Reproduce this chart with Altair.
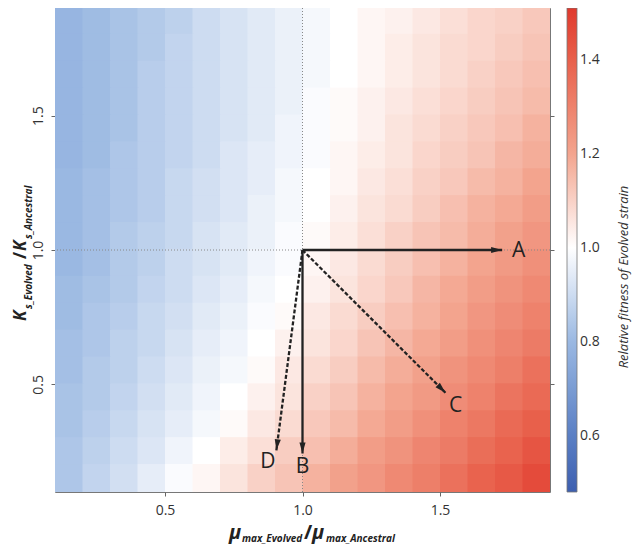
import math
import altair as alt
import pandas as pd

# ---------------- data ----------------
mu_ratio = [0.15, 0.25, 0.35, 0.45, 0.55, 0.65, 0.75, 0.85, 0.95,
            1.05, 1.15, 1.25, 1.35, 1.45, 1.55, 1.65, 1.75, 1.85]
ks_ratio = [1.85, 1.75, 1.65, 1.55, 1.45, 1.35, 1.25, 1.15, 1.05,
            0.95, 0.85, 0.75, 0.65, 0.55, 0.45, 0.35, 0.25, 0.15]

fit_ks_185 = [0.79, 0.81, 0.83, 0.85, 0.87, 0.90, 0.92, 0.94, 0.96, 0.98, 1.00, 1.02, 1.03, 1.05, 1.07, 1.09, 1.10, 1.12]
fit_ks_175 = [0.79, 0.81, 0.83, 0.85, 0.88, 0.90, 0.92, 0.94, 0.96, 0.98, 1.00, 1.02, 1.04, 1.06, 1.08, 1.09, 1.11, 1.13]
fit_ks_165 = [0.79, 0.81, 0.83, 0.86, 0.88, 0.90, 0.92, 0.94, 0.96, 0.98, 1.00, 1.02, 1.04, 1.06, 1.08, 1.10, 1.12, 1.14]
fit_ks_155 = [0.79, 0.81, 0.83, 0.86, 0.88, 0.90, 0.92, 0.94, 0.96, 0.99, 1.01, 1.03, 1.05, 1.07, 1.09, 1.11, 1.13, 1.15]
fit_ks_145 = [0.79, 0.81, 0.83, 0.86, 0.88, 0.90, 0.92, 0.94, 0.97, 0.99, 1.01, 1.03, 1.06, 1.08, 1.10, 1.12, 1.14, 1.17]
fit_ks_135 = [0.79, 0.81, 0.84, 0.86, 0.88, 0.90, 0.93, 0.95, 0.97, 0.99, 1.02, 1.04, 1.06, 1.09, 1.11, 1.13, 1.16, 1.18]
fit_ks_125 = [0.80, 0.82, 0.84, 0.86, 0.89, 0.91, 0.93, 0.95, 0.98, 1.00, 1.02, 1.05, 1.07, 1.10, 1.12, 1.15, 1.17, 1.20]
fit_ks_115 = [0.80, 0.82, 0.84, 0.86, 0.89, 0.91, 0.93, 0.96, 0.98, 1.00, 1.03, 1.06, 1.08, 1.11, 1.14, 1.17, 1.19, 1.22]
fit_ks_105 = [0.80, 0.82, 0.85, 0.87, 0.89, 0.92, 0.94, 0.96, 0.99, 1.01, 1.04, 1.07, 1.10, 1.13, 1.15, 1.18, 1.21, 1.24]
fit_ks_095 = [0.80, 0.82, 0.85, 0.87, 0.90, 0.92, 0.94, 0.97, 0.99, 1.02, 1.05, 1.08, 1.11, 1.14, 1.17, 1.20, 1.23, 1.26]
fit_ks_085 = [0.81, 0.83, 0.85, 0.88, 0.90, 0.93, 0.95, 0.98, 1.00, 1.03, 1.06, 1.09, 1.12, 1.16, 1.19, 1.22, 1.25, 1.28]
fit_ks_075 = [0.81, 0.84, 0.86, 0.89, 0.91, 0.94, 0.96, 0.99, 1.01, 1.05, 1.08, 1.11, 1.14, 1.17, 1.20, 1.24, 1.27, 1.30]
fit_ks_065 = [0.82, 0.84, 0.87, 0.89, 0.92, 0.95, 0.97, 1.00, 1.03, 1.06, 1.09, 1.13, 1.16, 1.19, 1.22, 1.26, 1.29, 1.32]
fit_ks_055 = [0.82, 0.85, 0.87, 0.90, 0.93, 0.96, 0.98, 1.01, 1.05, 1.08, 1.11, 1.15, 1.18, 1.21, 1.25, 1.28, 1.31, 1.35]
fit_ks_045 = [0.83, 0.85, 0.88, 0.91, 0.94, 0.97, 1.00, 1.03, 1.06, 1.10, 1.13, 1.17, 1.20, 1.23, 1.27, 1.30, 1.34, 1.37]
fit_ks_035 = [0.83, 0.86, 0.89, 0.92, 0.95, 0.98, 1.01, 1.05, 1.08, 1.12, 1.15, 1.19, 1.22, 1.26, 1.30, 1.33, 1.37, 1.40]
fit_ks_025 = [0.84, 0.87, 0.90, 0.93, 0.97, 1.00, 1.04, 1.07, 1.11, 1.14, 1.18, 1.22, 1.25, 1.29, 1.32, 1.36, 1.39, 1.43]
fit_ks_015 = [0.84, 0.88, 0.91, 0.95, 0.99, 1.02, 1.06, 1.10, 1.13, 1.17, 1.21, 1.24, 1.28, 1.31, 1.35, 1.39, 1.42, 1.46]

fitness_rows = [fit_ks_185, fit_ks_175, fit_ks_165, fit_ks_155, fit_ks_145, fit_ks_135,
                fit_ks_125, fit_ks_115, fit_ks_105, fit_ks_095, fit_ks_085, fit_ks_075,
                fit_ks_065, fit_ks_055, fit_ks_045, fit_ks_035, fit_ks_025, fit_ks_015]

arrow_names = ["A", "B", "C", "D"]
arrow_start_x = [1.0, 1.0, 1.0, 1.0]
arrow_start_y = [1.0, 1.0, 1.0, 1.0]
arrow_end_x = [1.726, 1.0, 1.52, 0.905]
arrow_end_y = [1.0, 0.243, 0.469, 0.255]
arrow_style = ["solid", "solid", "dashed", "dashed"]
label_x = [1.786, 1.0, 1.557, 0.874]
label_y = [0.995, 0.193, 0.42, 0.212]

axis_ticks = [0.5, 1.0, 1.5]
legend_ticks = [0.6, 0.8, 1.0, 1.2, 1.4]
color_stops = [0.48, 0.6, 0.8, 1.0, 1.2, 1.4, 1.51]
color_values = ["#3d5fb0", "#5a7fc4", "#9ab8e2", "#ffffff", "#f3a48e", "#e8604b", "#e0392d"]

# ---------------- layout ----------------
W, H = 495, 484
FONT = "Open Sans"
INK = "#222222"
GREY = "#333333"

cells = []
for yc, row in zip(ks_ratio, fitness_rows):
    for xc, v in zip(mu_ratio, row):
        cells.append({"x": xc, "y": yc, "v": v})
cells = pd.DataFrame(cells)
half = (mu_ratio[1] - mu_ratio[0]) / 2
overlap = 0.004  # hides anti-aliasing seams between neighbouring cells
cells["x0"] = cells["x"] - half
cells["x1"] = cells["x"] + half + overlap
cells["y0"] = cells["y"] - half
cells["y1"] = cells["y"] + half + overlap

xscale = alt.Scale(domain=[0.1, 1.9], nice=False, zero=False)
yscale = alt.Scale(domain=[0.1, 1.9], nice=False, zero=False)
cscale = alt.Scale(domain=color_stops, range=color_values, interpolate="rgb")

axis_common = dict(values=axis_ticks, format=".1f", title=None, grid=False, domain=False,
                   tickColor="#666666", tickSize=4, tickWidth=1,
                   labelFont=FONT, labelFontSize=14, labelColor=GREY)

heat = alt.Chart(cells).mark_rect(clip=True).encode(
    x=alt.X("x0:Q", scale=xscale, axis=alt.Axis(orient="bottom", labelPadding=7, **axis_common)),
    x2="x1:Q",
    y=alt.Y("y0:Q", scale=yscale, axis=alt.Axis(orient="left", labelAngle=270, labelAlign="center",
                                                labelBaseline="bottom", labelPadding=6, **axis_common)),
    y2="y1:Q",
    color=alt.Color("v:Q", scale=cscale, legend=alt.Legend(
        type="gradient", title=None, orient="none", legendX=512, legendY=0, direction="vertical",
        gradientLength=H, gradientThickness=10, gradientStrokeColor="#777777",
        gradientStrokeWidth=0.8, values=legend_ticks, format=".1f",
        labelFont=FONT, labelFontSize=14, labelColor=GREY, labelOffset=3, padding=0)),
)

ref_v = alt.Chart(pd.DataFrame({"v": [arrow_start_x[0]]})).mark_rule(
    color="#888888", strokeDash=[1, 2], strokeWidth=1).encode(
    x=alt.X("v:Q", scale=xscale, axis=alt.Axis(orient="top", labels=False, ticks=True,
                                              values=axis_ticks, title=None, grid=False, domain=False,
                                              tickColor="#666666", tickSize=4)))
ref_h = alt.Chart(pd.DataFrame({"v": [arrow_start_y[0]]})).mark_rule(
    color="#888888", strokeDash=[1, 2], strokeWidth=1).encode(
    y=alt.Y("v:Q", scale=yscale, axis=alt.Axis(orient="right", labels=False, ticks=True,
                                              values=axis_ticks, title=None, grid=False, domain=False,
                                              tickColor="#666666", tickSize=4)))

px_x = W / 1.8
px_y = H / 1.8
angles = []
for sx, sy, ex, ey in zip(arrow_start_x, arrow_start_y, arrow_end_x, arrow_end_y):
    dx = (ex - sx) * px_x
    dy = -(ey - sy) * px_y
    angles.append(math.degrees(math.atan2(dx, -dy)) % 360)

arrows = pd.DataFrame({"name": arrow_names, "sx": arrow_start_x, "sy": arrow_start_y,
                       "ex": arrow_end_x, "ey": arrow_end_y, "style": arrow_style,
                       "ang": angles, "lx": label_x, "ly": label_y})

shafts = alt.Chart(arrows).mark_rule(color=INK, strokeWidth=2.3, strokeCap="butt").encode(
    x=alt.X("sx:Q", scale=xscale, axis=None), y=alt.Y("sy:Q", scale=yscale, axis=None),
    x2="ex:Q", y2="ey:Q",
    strokeDash=alt.StrokeDash("style:N", scale=alt.Scale(domain=["solid", "dashed"],
                                                         range=[[1, 0], [4, 2]]), legend=None),
)
heads = alt.Chart(arrows).mark_point(shape="M0,0L0.5,1.8L-0.5,1.8Z", filled=True, size=150,
                                     color=INK, opacity=1, strokeWidth=0).encode(
    x=alt.X("ex:Q", scale=xscale, axis=None), y=alt.Y("ey:Q", scale=yscale, axis=None),
    angle=alt.Angle("ang:Q", scale=None),
)
labels = alt.Chart(arrows).mark_text(font=FONT, fontSize=21, color=INK).encode(
    x=alt.X("lx:Q", scale=xscale, axis=None), y=alt.Y("ly:Q", scale=yscale, axis=None),
    text="name:N",
)

dummy = pd.DataFrame({"d": [0]})


def piece(txt, px, py, size, angle=0, italic=True, bold=True):
    kw = dict(text=txt, font=FONT, fontSize=size, color=INK, align="left",
              baseline="alphabetic", fontStyle="italic" if italic else "normal",
              fontWeight="bold" if bold else "normal")
    if angle:
        kw["angle"] = angle
    return alt.Chart(dummy).mark_text(**kw).encode(x=alt.value(px), y=alt.value(py))


# x axis title: mu_max_Evolved / mu_max_Ancestral
xt = [
    piece("μ", 174, 531, 20),
    piece("max_Evolved", 187, 534, 10),
    piece("/", 249, 531, 20, italic=False),
    piece("μ", 257, 531, 20),
    piece("max_Ancestral", 271, 534, 10),
]
# y axis title: K_s_Evolved / K_s_Ancestral (rotated)
yt = [
    piece("K", -29, 313, 17, angle=270),
    piece("s_Evolved", -23, 301, 10, angle=270),
    piece("/", -29, 251, 17, angle=270, italic=False),
    piece("K", -29, 243, 17, angle=270),
    piece("s_Ancestral", -23, 231, 10, angle=270),
]
legend_title = alt.Chart(dummy).mark_text(
    text="Relative fitness of Evolved strain", font=FONT, fontSize=13, fontStyle="italic",
    color=GREY, angle=270, align="center", baseline="middle").encode(
    x=alt.value(569), y=alt.value(269))

chart = alt.layer(heat, ref_v, ref_h, shafts, heads, labels, *xt, *yt, legend_title).resolve_axis(
    x="independent", y="independent"
).properties(
    width=W, height=H,
    autosize=alt.AutoSizeParams(type="none"),
    padding={"left": 47, "top": 0, "right": 82, "bottom": 54},
).configure_view(stroke="#777777", strokeWidth=1)

chart.save("out.html", embed_options={"renderer": "svg", "actions": False})
